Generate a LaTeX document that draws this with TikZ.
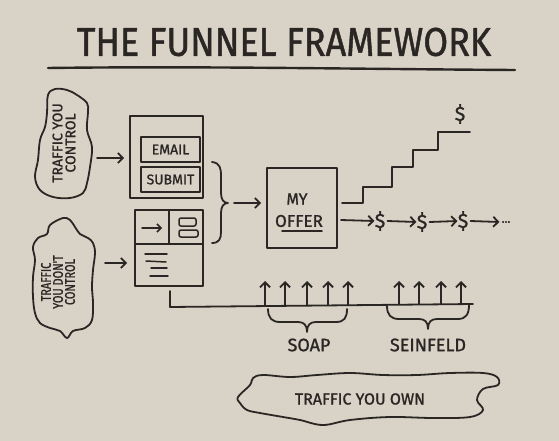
\documentclass[tikz,border=0pt]{standalone}
\usepackage{fontspec}
\setmainfont{Fira Sans}
\newfontfamily\hand{Fira Sans}[FakeBold=1.2]
\usetikzlibrary{arrows.meta}
\definecolor{paper}{RGB}{216,210,199}
\definecolor{inkc}{RGB}{42,38,36}
\newcommand{\fs}[1]{\hand\fontsize{#1}{#1}\selectfont}
\begin{document}
\begin{tikzpicture}[x=1pt,y=-1pt, line cap=round, line join=round,
  ink/.style={draw=inkc, line width=1.8pt},
  arr/.style={ink, -{Straight Barb[length=5pt,width=10pt]}},
  lbl/.style={text=inkc, inner sep=0pt},
  boxnode/.style={ink, inner sep=0pt},
]
\fill[paper] (0,0) rectangle (559,441);
\useasboundingbox (0,0) rectangle (559,441);

% title
\node[lbl, font=\fs{40}] (title) at (284,42) {\scalebox{0.9}[1]{THE FUNNEL FRAMEWORK}};
\draw[ink, line width=2.4pt] (48,68) .. controls (200,66) and (350,69) .. (515,70);

% blob 1
\draw[ink] plot[smooth cycle, tension=0.6] coordinates {(48,95) (55,89) (67,90) (77,95) (87,103) (88,112) (87,130) (92,147) (90,167) (87,183) (83,193) (70,198) (53,197) (40,190) (35,177) (38,160) (40,140) (45,127) (47,113)};
\node[lbl, rotate=90, align=center, font=\fs{14}] (t1) at (64,143) {TRAFFIC YOU\\[-1pt]CONTROL};

% blob 2
\draw[ink] plot[smooth cycle, tension=0.6] coordinates {(63,218) (50,225) (47,234) (38,238) (33,247) (35,260) (33,277) (33,297) (35,313) (40,323) (50,328) (60,331) (67,338) (73,331) (85,328) (92,320) (93,303) (92,287) (93,270) (95,253) (93,243) (88,238) (80,234) (75,227) (70,220)};
\node[lbl, rotate=90, align=center, font=\fs{14}] (t2) at (58,282) {\scalebox{0.78}[1]{TRAFFIC}\\[-2pt]\scalebox{0.78}[1]{YOU DON'T}\\[-2pt]\scalebox{0.78}[1]{CONTROL}};

% page 1
\node[boxnode, minimum width=73pt, minimum height=82pt] (page1) at (166.5,157) {};
\node[boxnode, line width=1.6pt, minimum width=59pt, minimum height=25pt, font=\fs{14}, text=inkc] (email) at (170.5,149.5) {EMAIL};
\node[boxnode, line width=1.6pt, minimum width=59pt, minimum height=25pt, font=\fs{14}, text=inkc] (submit) at (170.5,179.5) {SUBMIT};

% page 2
\node[boxnode, minimum width=68pt, minimum height=76pt] (page2) at (169,248) {};
\draw[ink] (169,210) -- (169,244);
\draw[ink] (135,244) -- (203,244);
\draw[ink, line width=1.5pt, -{Straight Barb[length=4pt,width=8pt]}] (142,228) -- (162,228);
\draw[ink, line width=1.5pt, rounded corners=2pt] (179,218) rectangle (196,226);
\draw[ink, line width=1.5pt, rounded corners=2pt] (179,230) rectangle (198,237);
\draw[ink, line width=1.5pt] (145,254) -- (167,254);
\draw[ink, line width=1.5pt] (146,261) -- (166,262);
\draw[ink, line width=1.5pt] (151,268) -- (167,268);
\draw[ink, line width=1.5pt] (150,276) -- (168,276);

% inbound arrows
\coordinate (b1e) at (97,158);
\coordinate (b2e) at (105,263);
\draw[arr] (b1e) -- ([xshift=-5pt]page1.west |- b1e);
\draw[arr] (b2e) -- ([xshift=-7pt]page2.west |- b2e);

% brace
\draw[ink] (212,162) .. controls (220,163) and (221,168) .. (221,176) -- (221,193) .. controls (221,200) and (224,203) .. (228,203) .. controls (224,203) and (221,206) .. (221,213) -- (221,232) .. controls (221,239) and (219,243) .. (212,243);
\coordinate (bt) at (234,203);

% offer
\node[boxnode, minimum width=70pt, minimum height=80pt] (offer) at (302,208) {};
\draw[arr] (bt) -- ([xshift=-5pt]offer.west |- bt);
\node[lbl, font=\fs{16}] (my) at (297,199) {MY};
\node[lbl, font=\fs{17}] (off) at (299,221) {OFFER};
\draw[ink] (282,231) -- (322,231);

% stairs
\draw[ink] (342,203) -- (363,203) -- (363,187) -- (392,187) -- (392,167) -- (413,167) -- (413,150) -- (438,150) -- (438,132) -- (470,132);
\node[lbl, font=\fs{20}] (dtop) at (460,114) {\$};

% dollar chain
\node[lbl, font=\fs{20}] (d1) at (380,221) {\$};
\node[lbl, font=\fs{20}] (d2) at (422,222) {\$};
\node[lbl, font=\fs{20}] (d3) at (463,221) {\$};
\node[lbl, font=\fs{12}] (dots) at (506,222) {...};
\coordinate (c0) at (341,220);
\draw[arr] (c0) -- (d1.west);
\draw[arr] ([xshift=2pt]d1.east) -- (d2.west);
\draw[arr] ([xshift=2pt]d2.east) -- (d3.west);
\draw[arr] ([xshift=2pt]d3.east) -- ([xshift=-2pt]dots.west);

% bottom line
\draw[ink] (170,291) -- (170,307) -- (473,304);
\foreach \x in {265,285,307,328,348,399,419,441,461}
  \draw[arr] (\x,{306.8-3*(\x-170)/303}) -- (\x,281);

% braces under
\draw[ink] (268,309) .. controls (268,318) and (272,322) .. (280,322) -- (298,322) .. controls (304,322) and (307,325) .. (307,332) .. controls (307,325) and (310,322) .. (316,322) -- (336,322) .. controls (344,322) and (347,318) .. (347,309);
\draw[ink] (387,306) .. controls (387,315) and (391,319) .. (399,319) -- (419,319) .. controls (425,319) and (428,322) .. (428,329) .. controls (428,322) and (431,319) .. (437,319) -- (458,319) .. controls (466,319) and (469,314) .. (469,305);
\node[lbl, font=\fs{18}] (soap) at (309,345) {SOAP};
\node[lbl, font=\fs{18}] (sein) at (428,345) {SEINFELD};

% cloud
\draw[ink] plot[smooth cycle, tension=0.6] coordinates {(238,397) (250,385) (253,378) (263,375) (290,377) (317,375) (350,373) (383,375) (417,375) (450,373) (483,373) (497,377) (498,385) (483,389) (477,400) (483,410) (470,417) (433,418) (390,417) (350,420) (323,425) (300,420) (283,417) (260,413) (247,410) (240,403)};
\node[lbl, font=\fs{16}] (own) at (360,399) {TRAFFIC YOU OWN};
\end{tikzpicture}
\end{document}
